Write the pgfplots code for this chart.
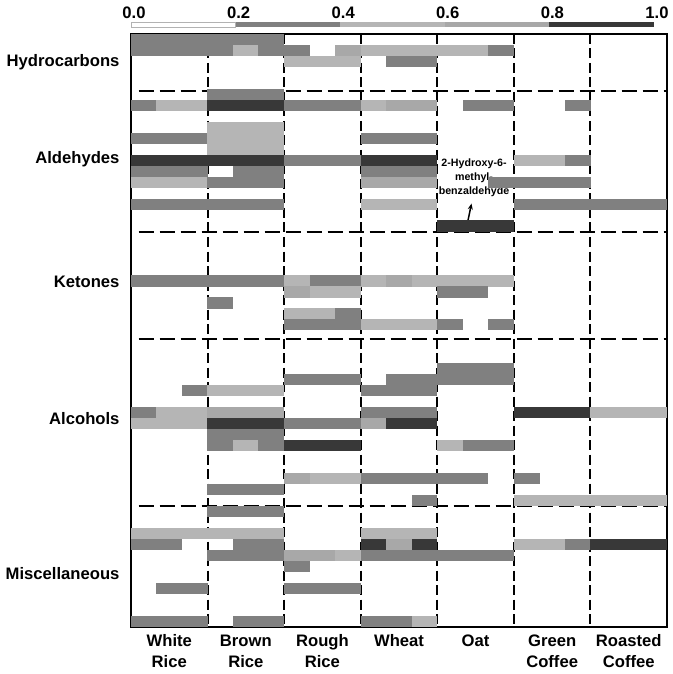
\documentclass[border=0pt]{standalone}
\usepackage{pgfplots}
\pgfplotsset{compat=1.18}
\usepackage{fontspec}
\setmainfont{Liberation Sans}
\usetikzlibrary{arrows.meta}
\definecolor{cM}{HTML}{808080}
\definecolor{cL}{HTML}{B5B5B5}
\definecolor{cLL}{HTML}{A8A8A8}
\definecolor{cD}{HTML}{383838}
\pgfdeclareplotmark{cell}{%
  \pgfpathrectangle{\pgfqpoint{-12.9bp}{-5.6bp}}{\pgfqpoint{25.8bp}{11.2bp}}%
  \pgfusepathqfill}
\newcommand{\lblfont}{\bfseries\fontsize{16.7}{21}\selectfont}
\begin{document}
\begin{tikzpicture}
\useasboundingbox (-131bp,-47.3bp) rectangle (542bp,626.7bp);
\begin{axis}[
  at={(0bp,0bp)}, anchor=south west,
  scale only axis, width=536bp, height=592.7bp,
  xmin=0, xmax=21, ymin=0, ymax=54,
  axis on top,
  axis line style={line width=2bp},
  xtick={1.5,4.5,7.5,10.5,13.5,16.5,19.5},
  xticklabels={{White\\Rice},{Brown\\Rice},{Rough\\Rice},{Wheat},{Oat},{Green\\Coffee},{Roasted\\Coffee}},
  xticklabel style={align=center, font=\lblfont, yshift=-4.5bp},
  ytick={4.8,19.0,31.44,42.6,51.45},
  yticklabels={Miscellaneous,Alcohols,Ketones,Aldehydes,Hydrocarbons},
  yticklabel style={font=\lblfont, xshift=-8bp},
  major tick length=0pt,
  clip=false,
]
\addplot[only marks, scatter, point meta=explicit symbolic,
  scatter/classes={1={mark=cell,fill=cM},2={mark=cell,fill=cL},3={mark=cell,fill=cLL},4={mark=cell,fill=cD}}]
coordinates {
(0.5,53.5)[1] (1.5,53.5)[1] (2.5,53.5)[1] (3.5,53.5)[1] (4.5,53.5)[1] (5.5,53.5)[1]
(0.5,52.5)[1] (1.5,52.5)[1] (2.5,52.5)[1] (3.5,52.5)[1] (4.5,52.5)[2] (5.5,52.5)[1] (6.5,52.5)[1] (8.5,52.5)[3] (9.5,52.5)[2] (10.5,52.5)[2] (11.5,52.5)[2] (12.5,52.5)[2] (13.5,52.5)[2] (14.5,52.5)[1]
(6.5,51.5)[2] (7.5,51.5)[2] (8.5,51.5)[2] (10.5,51.5)[1] (11.5,51.5)[1]
(3.5,48.5)[1] (4.5,48.5)[1] (5.5,48.5)[1]
(0.5,47.5)[1] (1.5,47.5)[2] (2.5,47.5)[2] (3.5,47.5)[4] (4.5,47.5)[4] (5.5,47.5)[4] (6.5,47.5)[1] (7.5,47.5)[1] (8.5,47.5)[1] (9.5,47.5)[2] (10.5,47.5)[3] (11.5,47.5)[3] (13.5,47.5)[1] (14.5,47.5)[1] (17.5,47.5)[1]
(3.5,45.5)[2] (4.5,45.5)[2] (5.5,45.5)[2]
(0.5,44.5)[1] (1.5,44.5)[1] (2.5,44.5)[1] (3.5,44.5)[2] (4.5,44.5)[2] (5.5,44.5)[2] (9.5,44.5)[1] (10.5,44.5)[1] (11.5,44.5)[1]
(3.5,43.5)[2] (4.5,43.5)[2] (5.5,43.5)[2]
(0.5,42.5)[4] (1.5,42.5)[4] (2.5,42.5)[4] (3.5,42.5)[4] (4.5,42.5)[4] (5.5,42.5)[4] (6.5,42.5)[1] (7.5,42.5)[1] (8.5,42.5)[1] (9.5,42.5)[4] (10.5,42.5)[4] (11.5,42.5)[4] (15.5,42.5)[2] (16.5,42.5)[2] (17.5,42.5)[1]
(0.5,41.5)[1] (1.5,41.5)[1] (2.5,41.5)[1] (4.5,41.5)[1] (5.5,41.5)[1] (9.5,41.5)[1] (10.5,41.5)[1] (11.5,41.5)[1]
(0.5,40.5)[2] (1.5,40.5)[2] (2.5,40.5)[2] (3.5,40.5)[1] (4.5,40.5)[1] (5.5,40.5)[1] (9.5,40.5)[3] (10.5,40.5)[3] (11.5,40.5)[3] (14.5,40.5)[1] (15.5,40.5)[1] (16.5,40.5)[1] (17.5,40.5)[1]
(0.5,38.5)[1] (1.5,38.5)[1] (2.5,38.5)[1] (3.5,38.5)[1] (4.5,38.5)[1] (5.5,38.5)[1] (9.5,38.5)[2] (10.5,38.5)[2] (11.5,38.5)[2] (15.5,38.5)[1] (16.5,38.5)[1] (17.5,38.5)[1] (18.5,38.5)[1] (19.5,38.5)[1] (20.5,38.5)[1]
(12.5,36.5)[4] (13.5,36.5)[4] (14.5,36.5)[4]
(0.5,31.5)[1] (1.5,31.5)[1] (2.5,31.5)[1] (3.5,31.5)[1] (4.5,31.5)[1] (5.5,31.5)[1] (6.5,31.5)[2] (7.5,31.5)[1] (8.5,31.5)[1] (9.5,31.5)[2] (10.5,31.5)[3] (11.5,31.5)[2] (12.5,31.5)[2] (13.5,31.5)[2] (14.5,31.5)[2]
(6.5,30.5)[3] (7.5,30.5)[2] (8.5,30.5)[2] (12.5,30.5)[1] (13.5,30.5)[1]
(3.5,29.5)[1]
(6.5,28.5)[2] (7.5,28.5)[2] (8.5,28.5)[1]
(6.5,27.5)[1] (7.5,27.5)[1] (8.5,27.5)[1] (9.5,27.5)[2] (10.5,27.5)[2] (11.5,27.5)[2] (12.5,27.5)[1] (14.5,27.5)[1]
(12.5,23.5)[1] (13.5,23.5)[1] (14.5,23.5)[1]
(6.5,22.5)[1] (7.5,22.5)[1] (8.5,22.5)[1] (10.5,22.5)[1] (11.5,22.5)[1] (12.5,22.5)[1] (13.5,22.5)[1] (14.5,22.5)[1]
(2.5,21.5)[1] (3.5,21.5)[2] (4.5,21.5)[2] (5.5,21.5)[2] (9.5,21.5)[1] (10.5,21.5)[1] (11.5,21.5)[1]
(0.5,19.5)[1] (1.5,19.5)[2] (2.5,19.5)[2] (3.5,19.5)[3] (4.5,19.5)[3] (5.5,19.5)[3] (9.5,19.5)[1] (10.5,19.5)[1] (11.5,19.5)[1] (15.5,19.5)[4] (16.5,19.5)[4] (17.5,19.5)[4] (18.5,19.5)[2] (19.5,19.5)[2] (20.5,19.5)[2]
(0.5,18.5)[2] (1.5,18.5)[2] (2.5,18.5)[2] (3.5,18.5)[4] (4.5,18.5)[4] (5.5,18.5)[4] (6.5,18.5)[1] (7.5,18.5)[1] (8.5,18.5)[1] (9.5,18.5)[3] (10.5,18.5)[4] (11.5,18.5)[4]
(3.5,17.5)[1] (4.5,17.5)[1] (5.5,17.5)[1]
(3.5,16.5)[1] (4.5,16.5)[2] (5.5,16.5)[1] (6.5,16.5)[4] (7.5,16.5)[4] (8.5,16.5)[4] (12.5,16.5)[2] (13.5,16.5)[1] (14.5,16.5)[1]
(6.5,13.5)[3] (7.5,13.5)[2] (8.5,13.5)[2] (9.5,13.5)[1] (10.5,13.5)[1] (11.5,13.5)[1] (12.5,13.5)[1] (13.5,13.5)[1] (15.5,13.5)[1]
(3.5,12.5)[1] (4.5,12.5)[1] (5.5,12.5)[1]
(11.5,11.5)[1] (15.5,11.5)[2] (16.5,11.5)[2] (17.5,11.5)[2] (18.5,11.5)[2] (19.5,11.5)[2] (20.5,11.5)[2]
(3.5,10.5)[1] (4.5,10.5)[1] (5.5,10.5)[1]
(0.5,8.5)[2] (1.5,8.5)[2] (2.5,8.5)[2] (3.5,8.5)[2] (4.5,8.5)[2] (5.5,8.5)[2] (9.5,8.5)[2] (10.5,8.5)[2] (11.5,8.5)[2]
(0.5,7.5)[1] (1.5,7.5)[1] (4.5,7.5)[1] (5.5,7.5)[1] (9.5,7.5)[4] (10.5,7.5)[3] (11.5,7.5)[4] (15.5,7.5)[2] (16.5,7.5)[2] (17.5,7.5)[1] (18.5,7.5)[4] (19.5,7.5)[4] (20.5,7.5)[4]
(3.5,6.5)[1] (4.5,6.5)[1] (5.5,6.5)[1] (6.5,6.5)[3] (7.5,6.5)[3] (8.5,6.5)[2] (9.5,6.5)[1] (10.5,6.5)[1] (11.5,6.5)[1] (12.5,6.5)[1] (13.5,6.5)[1] (14.5,6.5)[1]
(6.5,5.5)[1]
(1.5,3.5)[1] (2.5,3.5)[1] (6.5,3.5)[1] (7.5,3.5)[1] (8.5,3.5)[1]
(0.5,0.5)[1] (1.5,0.5)[1] (2.5,0.5)[1] (4.5,0.5)[1] (5.5,0.5)[1] (9.5,0.5)[1] (10.5,0.5)[1] (11.5,0.5)[2]
};
% column separators
\foreach \xx in {3,6,9,12,15,18} {
  \edef\tmp{\noexpand\draw[line width=2bp, dash pattern=on 10bp off 4.5bp] (axis cs:\xx,54) -- (axis cs:\xx,0);}
  \tmp
}
% group separators
\foreach \yy in {48.78,35.96,26.21,10.97} {
  \edef\tmp{\noexpand\draw[line width=2bp, dash pattern=on 15bp off 6bp] (axis cs:0.3,\yy) -- (axis cs:21,\yy);}
  \tmp
}
\node[font=\bfseries\fontsize{10.7}{14.3}\selectfont, align=center] at (axis cs:13.44,40.9) {2-Hydroxy-6-\\methyl-\\benzaldehyde};
\draw[-{Stealth[length=6bp,width=5bp]}, line width=1.5bp] (axis cs:13.14,36.3) -- (axis cs:13.34,38.55);
\end{axis}
\begin{axis}[
  at={(0bp,599.7bp)}, anchor=south west,
  scale only axis, width=523bp, height=5bp,
  xmin=0, xmax=1, ymin=0, ymax=1,
  axis line style={draw=none},
  xtick={0,0.2,0.4,0.6,0.8,1}, xticklabels={0.0,0.2,0.4,0.6,0.8,1.0},
  xticklabel pos=upper,
  xticklabel style={font=\lblfont, xshift=3bp},
  ytick=\empty, major tick length=0pt,
  clip=false,
]
\fill[cM] (axis cs:0.2,0) rectangle (axis cs:0.4,1);
\fill[cL] (axis cs:0.4,0) rectangle (axis cs:0.6,1);
\fill[cLL] (axis cs:0.6,0) rectangle (axis cs:0.8,1);
\fill[cD] (axis cs:0.8,0) rectangle (axis cs:1,1);
\draw[gray!60, line width=0.6bp] (axis cs:0,0) rectangle (axis cs:0.2,1);
\end{axis}
\end{tikzpicture}
\end{document}
